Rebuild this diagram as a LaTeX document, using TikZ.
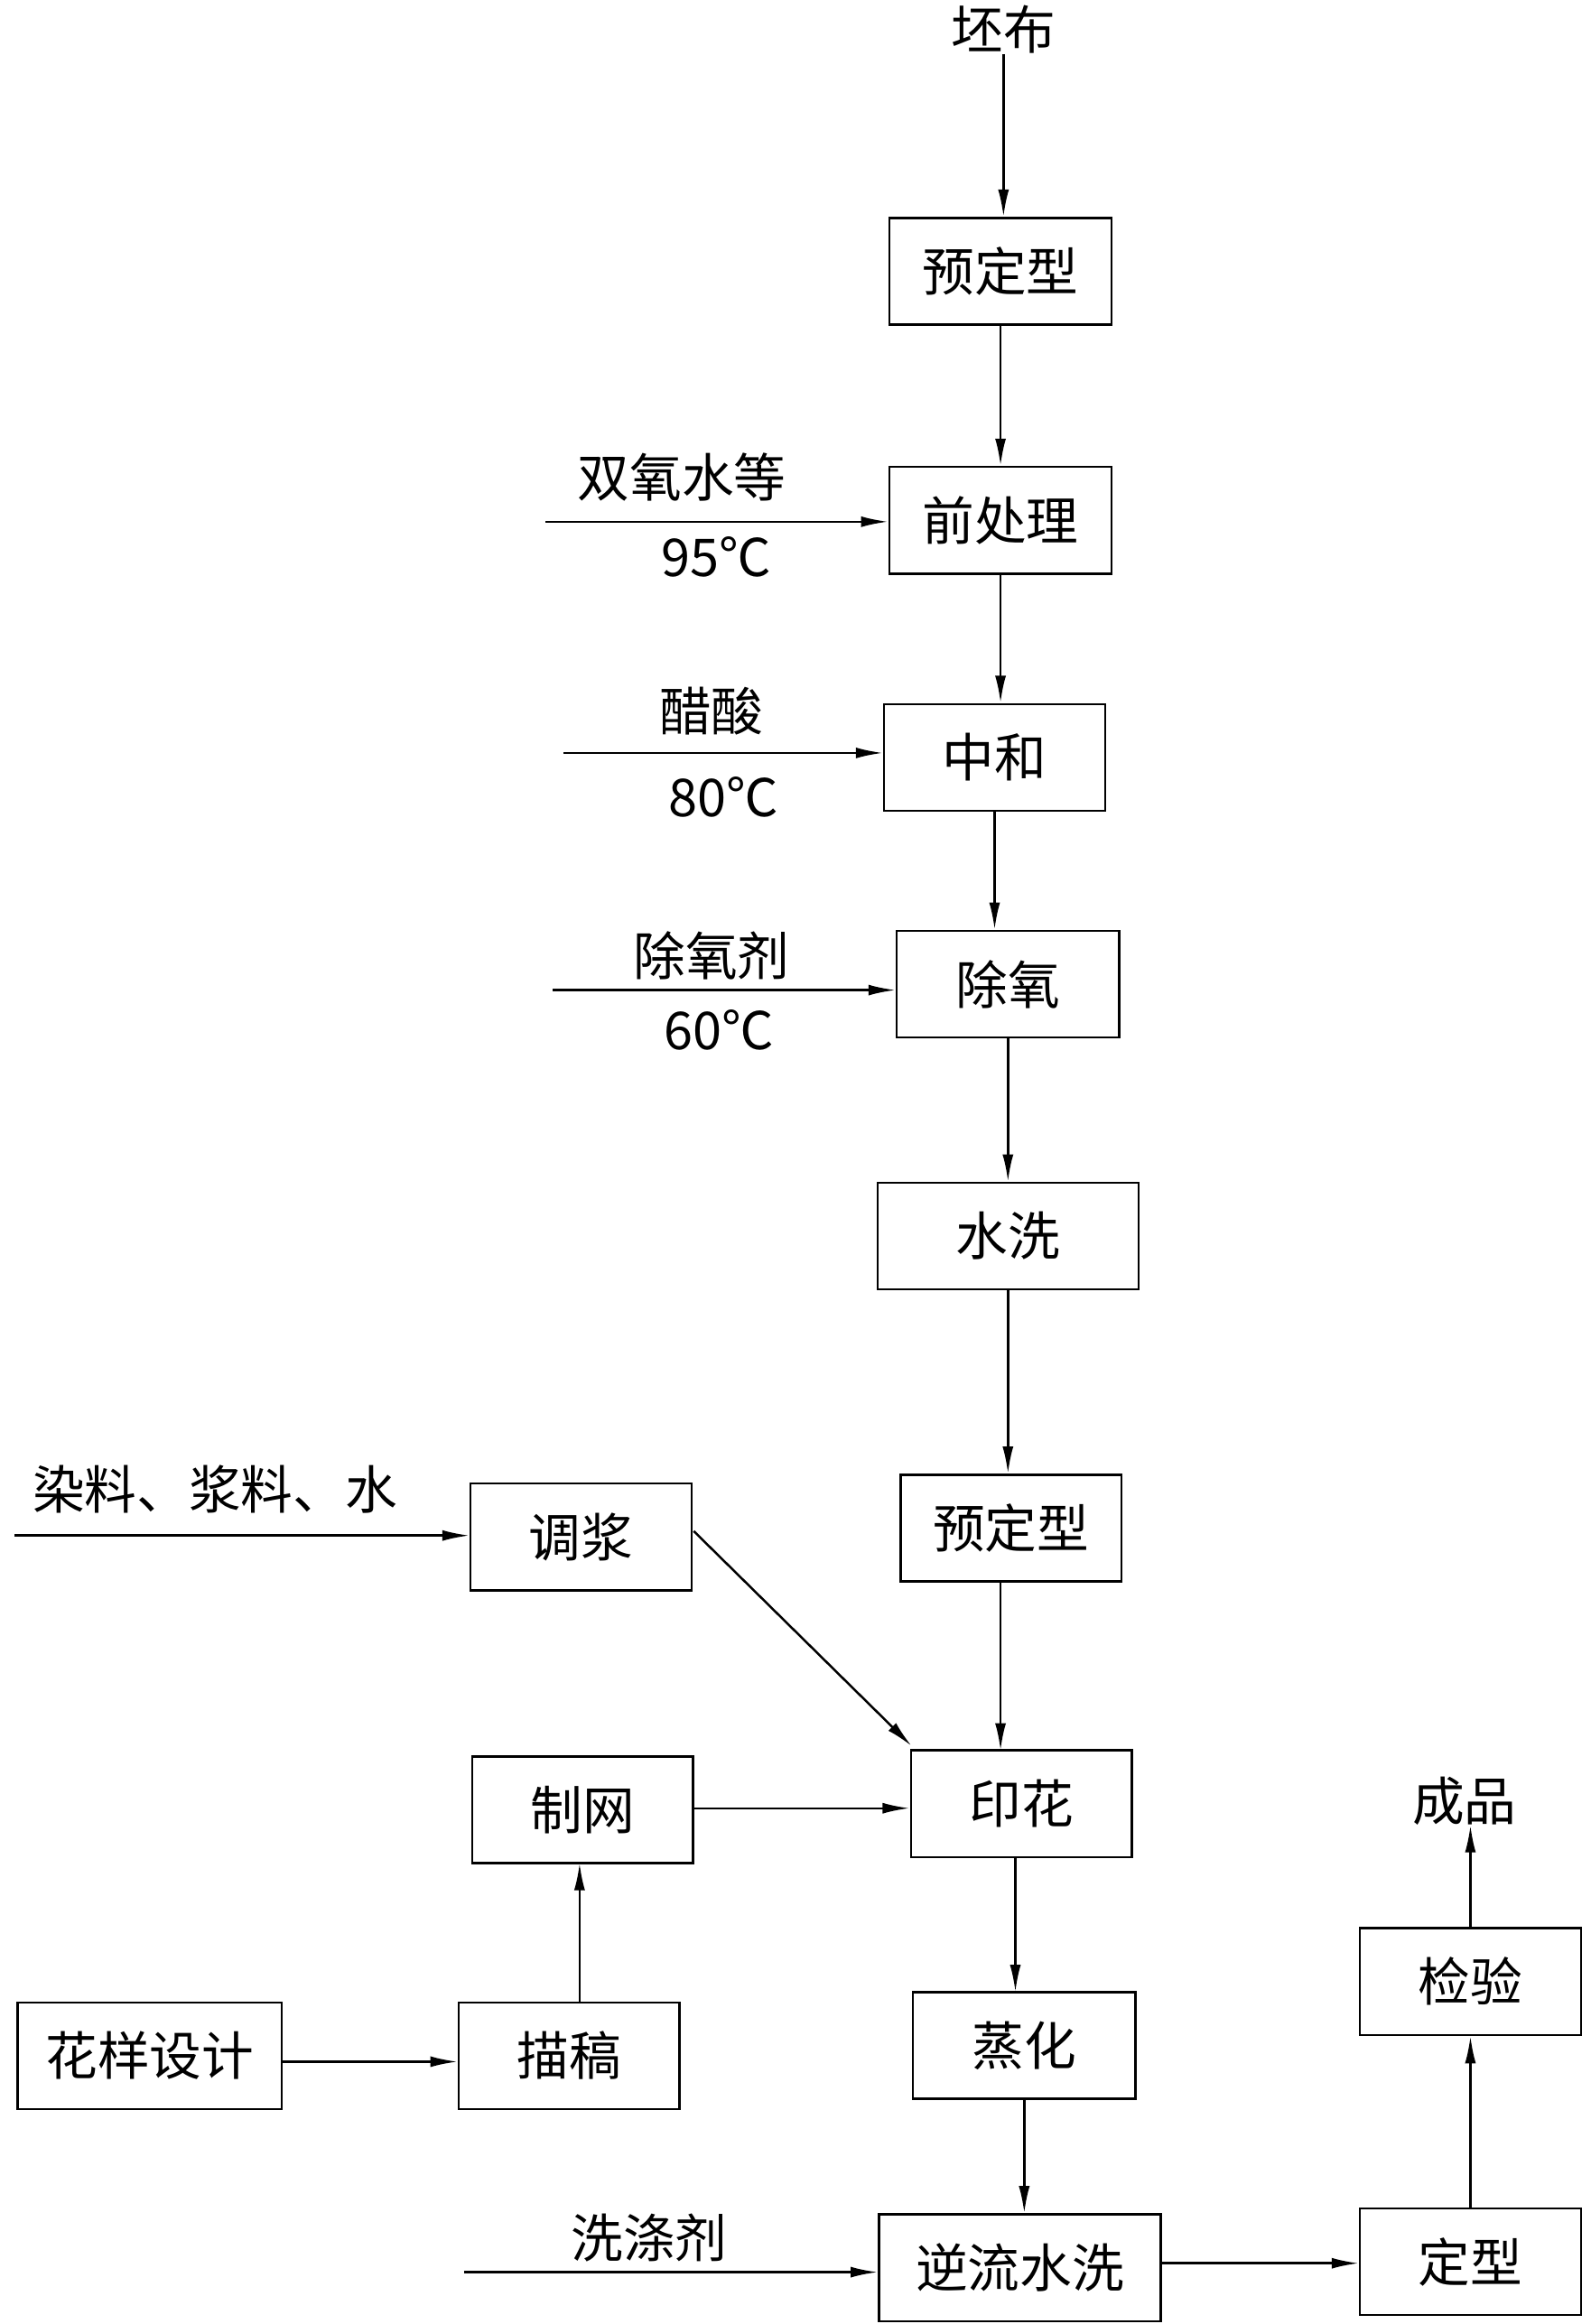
\documentclass[tikz,border=0pt]{standalone}
\usepackage{fontspec}
\setmainfont{Liberation Serif}
\newfontfamily\cjk{Noto Sans CJK SC}
\usetikzlibrary{arrows.meta}
\begin{document}
\begin{tikzpicture}[x=0.03cm,y=-0.03cm,
  box/.style={draw,line width=1.3pt,minimum height=2.16cm,inner sep=0pt,font=\cjk\fontsize{30}{32}\selectfont},
  lbl/.style={inner sep=0pt,font=\cjk\fontsize{30}{32}\selectfont},
  arr/.style={line width=1.3pt,-{Latex[length=0.55cm,width=0.22cm]}}]
\useasboundingbox (0,0) rectangle (1073,1568);
\node[lbl] (pb) at (677,20) {坯布};
\node[box,minimum width=4.5cm] (y1) at (675,183) {预定型};
\node[box,minimum width=4.5cm] (qc) at (675,351) {前处理};
\node[box,minimum width=4.47cm] (zh) at (671,511) {中和};
\node[box,minimum width=4.5cm] (cy) at (680,664) {除氧};
\node[box,minimum width=5.28cm] (sx) at (680,834) {水洗};
\node[box,minimum width=4.47cm] (y2) at (682,1031) {预定型};
\node[box,minimum width=4.47cm] (yh) at (689,1217) {印花};
\node[box,minimum width=4.5cm] (zhua) at (691,1380) {蒸化};
\node[box,minimum width=5.7cm] (nl) at (688,1530) {逆流水洗};
\node[box,minimum width=4.47cm] (dx) at (992,1526) {定型};
\node[box,minimum width=4.47cm] (jy) at (992,1337) {检验};
\node[lbl] (cp) at (988,1215) {成品};
\node[box,minimum width=4.47cm] (tj) at (392,1037) {调浆};
\node[box,minimum width=4.47cm] (zw) at (393,1221) {制网};
\node[box,minimum width=4.47cm] (mg) at (384,1387) {描稿};
\node[box,minimum width=5.34cm] (hy) at (101,1387) {花样设计};
% side inputs
\coordinate (s1) at (368,352); \coordinate (s2) at (380,508);
\coordinate (s3) at (373,668); \coordinate (s4) at (10,1036);
\coordinate (s5) at (313,1533);
\node[lbl] at (460,322) {双氧水等};
\node[lbl] at (483,376) {95℃};
\node[lbl] at (480,480) {醋酸};
\node[lbl] at (488,538) {80℃};
\node[lbl] at (480,645) {除氧剂};
\node[lbl] at (485,695) {60℃};
\node[lbl] at (145,1005) {染料、浆料、水};
\node[lbl] at (438,1510) {洗涤剂};
\draw[arr] (s1) -- (s1 -| qc.west);
\draw[arr] (s2) -- (s2 -| zh.west);
\draw[arr] (s3) -- (s3 -| cy.west);
\draw[arr] (s4) -- (s4 -| tj.west);
\draw[arr] (s5) -- (s5 -| nl.west);
% main chain
\draw[arr] (pb.south) -- (pb.south |- y1.north);
\draw[arr] (y1.south) -- (y1.south |- qc.north);
\draw[arr] (qc.south) -- (qc.south |- zh.north);
\draw[arr] (zh.south) -- (zh.south |- cy.north);
\draw[arr] (cy.south) -- (cy.south |- sx.north);
\draw[arr] (sx.south) -- (sx.south |- y2.north);
\draw[arr] (y2.south -| 675,0) -- (675,1181);
\draw[arr] (685,1253) -- (685,1344);
\draw[arr] (zhua.south) -- (zhua.south |- nl.north);
\draw[arr] (nl.east |- 0,1527) -- (dx.west |- 0,1527);
\draw[arr] (dx.north) -- (jy.south);
\draw[arr] (jy.north) -- (jy.north |- cp.south);
\draw[arr] (468,1033) -- (615,1178);
\draw[arr] (zw.east |- 0,1220) -- (yh.west |- 0,1220);
\draw[arr] (mg.north -| 391,0) -- (391,1257);
\draw[arr] (hy.east |- 0,1391) -- (mg.west |- 0,1391);
\end{tikzpicture}
\end{document}
